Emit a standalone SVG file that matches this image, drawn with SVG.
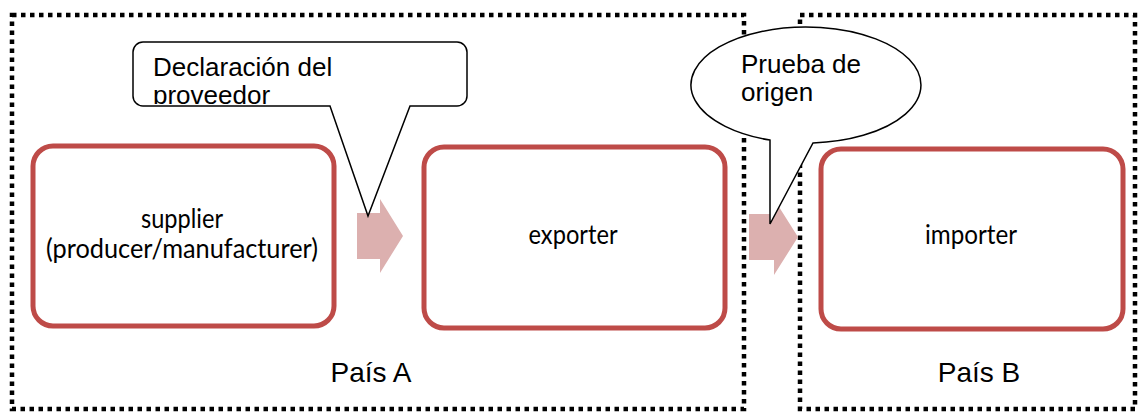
<svg xmlns="http://www.w3.org/2000/svg" width="1138" height="413" viewBox="0 0 1138 413">
<style>
.zone{fill:none;stroke:#000;stroke-width:4.5;stroke-dasharray:4.5 4.5}
.box{fill:#fff;stroke:#BE4B48;stroke-width:5}
.arrow{fill:#DCB0AF;stroke:none}
.callout{fill:#fff;stroke:#000;stroke-width:1.5;stroke-linejoin:miter}
.lbl{font-family:Lato,"Open Sans","Liberation Sans",sans-serif;font-size:26px;fill:#000;text-anchor:middle}
.ctext{font-family:"Liberation Sans",Arial,sans-serif;font-size:26px;fill:#000}
.zlbl{font-family:"Liberation Sans",Arial,sans-serif;font-size:28px;fill:#000;text-anchor:middle}
</style>
<defs>
<clipPath id="clip1"><rect x="134" y="43" width="332" height="61"/></clipPath>
</defs>
<rect width="1138" height="413" fill="#fff"/>
<g id="zoneA">
<rect class="zone" x="12" y="15" width="732" height="394"/>
<text class="zlbl" x="371" y="382">País A</text>
</g>
<g id="zoneB">
<rect class="zone" x="800" y="15" width="335" height="394"/>
<text class="zlbl" x="979" y="382">País B</text>
</g>
<g id="supplier">
<rect class="box" x="33" y="146" width="301" height="180" rx="20"/>
<text class="lbl" x="182" y="228" textLength="82" lengthAdjust="spacingAndGlyphs">supplier</text>
<text class="lbl" x="182" y="258" textLength="272" lengthAdjust="spacingAndGlyphs">(producer/manufacturer)</text>
</g>
<g id="exporter">
<rect class="box" x="424" y="147" width="301" height="181" rx="20"/>
<text class="lbl" x="573" y="244" textLength="89" lengthAdjust="spacingAndGlyphs">exporter</text>
</g>
<g id="importer">
<rect class="box" x="821" y="149" width="302" height="180" rx="20"/>
<text class="lbl" x="971" y="244" textLength="92" lengthAdjust="spacingAndGlyphs">importer</text>
</g>
<g id="connectors">
<polygon class="arrow" points="357,213 380,213 380,199 403,236 380,273 380,259 357,259"/>
<polygon class="arrow" points="749,214 774,214 774,199 798,237 774,275 774,260 749,260"/>
</g>
<g id="declaracion">
<path class="callout" d="M143,42 H457 A10,10 0 0 1 467,52 V96 A10,10 0 0 1 457,106 H410 L368,216 L330,106 H143 A10,10 0 0 1 133,96 V52 A10,10 0 0 1 143,42 Z"/>
<g clip-path="url(#clip1)">
<text class="ctext" x="153" y="76">Declaración del</text>
<text class="ctext" x="153" y="103.5">proveedor</text>
</g>
</g>
<g id="prueba">
<path class="callout" d="M813,142.9 A115,58 0 1 0 770,140.1 L770,224 Z"/>
<text class="ctext" x="741" y="73">Prueba de</text>
<text class="ctext" x="741" y="101">origen</text>
</g>
</svg>
